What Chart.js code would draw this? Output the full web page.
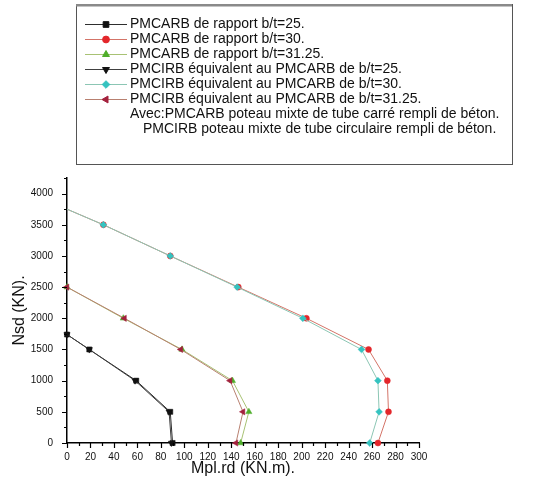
<!DOCTYPE html>
<html>
<head>
<meta charset="utf-8">
<script src="https://cdn.jsdelivr.net/npm/chart.js@4/dist/chart.umd.min.js"></script>
<style>
  html, body { margin: 0; padding: 0; background: #fff; }
  #wrap { position: relative; width: 554px; height: 489px; }
</style>
</head>
<body>
<div id="wrap"><canvas id="c" width="554" height="489"></canvas></div>
<script>
// Interaction curves N-M: axial load Nsd (KN) against plastic moment Mpl.rd (KN.m)
const nsd25 = [1740, 1500, 1000, 500, 0];
const mCarre25 = [0, 19, 59, 88, 90];
const mCirc25 = [0, 19, 58, 87, 89];

const nsd30 = [3750, 3500, 3000, 2500, 2000, 1500, 1000, 500, 0];
const mCarre30 = [0, 31, 88, 146, 204, 257, 273, 274, 265];
const mCirc30 = [0, 31, 88, 145, 201, 251, 265, 266, 258];

const nsd3125 = [2500, 2000, 1500, 1000, 500, 0];
const mCarre3125 = [0, 48, 98, 141, 155, 148];
const mCirc3125 = [0, 49, 97, 139, 150, 144];

const seriesLabels = [
  'PMCARB de rapport b/t=25.',
  'PMCARB de rapport b/t=30.',
  'PMCARB de rapport b/t=31.25.',
  'PMCIRB équivalent au PMCARB de b/t=25.',
  'PMCIRB équivalent au PMCARB de b/t=30.',
  'PMCIRB équivalent au PMCARB de b/t=31.25.'
];
const noteLines = [
  'Avec:PMCARB poteau mixte de tube carré rempli de béton.',
  'PMCIRB poteau mixte de tube circulaire rempli de béton.'
];

const xTickValues = [0, 20, 40, 60, 80, 100, 120, 140, 160, 180, 200, 220, 240, 260, 280, 300];
const yTickValues = [0, 500, 1000, 1500, 2000, 2500, 3000, 3500, 4000];
const xRange = { min: 0, max: 300, minor: 10 };
const yRange = { min: 0, max: 4250, minor: 250 };

function pts(ms, ns) { return ms.map((m, i) => ({ x: m, y: ns[i] })); }

const FONT = '"Liberation Sans", Arial, sans-serif';

// The b/t=30 curves start on the axis without a symbol
const styles = [
  { line: '#2e2e2e', fill: '#111111', pointStyle: 'rect', radius: 3.6, rotation: 0, bareStart: false },
  { line: '#d47468', fill: '#e3262b', pointStyle: 'circle', radius: 3, rotation: 0, bareStart: true },
  { line: '#a8c274', fill: '#4fae2a', pointStyle: 'triangle', radius: 3.6, rotation: 0, bareStart: false },
  { line: '#404040', fill: '#111111', pointStyle: 'triangle', radius: 3.6, rotation: 180, bareStart: false },
  { line: '#8cc6b4', fill: '#35c3c0', pointStyle: 'rectRot', radius: 3.4, rotation: 0, bareStart: true },
  { line: '#b88070', fill: '#a3203d', pointStyle: 'triangle', radius: 3.6, rotation: -90, bareStart: false }
];

const seriesData = [
  pts(mCarre25, nsd25),
  pts(mCarre30, nsd30),
  pts(mCarre3125, nsd3125),
  pts(mCirc25, nsd25),
  pts(mCirc30, nsd30),
  pts(mCirc3125, nsd3125)
];

// Later series are painted over earlier ones
const datasets = seriesData.map((d, i) => ({
  label: seriesLabels[i],
  data: d,
  order: seriesData.length - i,
  showLine: true,
  borderColor: styles[i].line,
  borderWidth: 1,
  backgroundColor: styles[i].fill,
  pointBackgroundColor: styles[i].fill,
  pointBorderColor: styles[i].fill,
  pointBorderWidth: 0.5,
  pointStyle: styles[i].pointStyle,
  pointRadius: ctx => (styles[i].bareStart && ctx.dataIndex === 0) ? 0 : styles[i].radius,
  legendRadius: styles[i].radius,
  pointRotation: styles[i].rotation,
  tension: 0,
  clip: false
}));

// Boxed legend above the plot, with the two explanatory lines
const boxLegend = {
  id: 'boxLegend',
  afterDraw(chart) {
    const ctx = chart.ctx;
    const box = { left: 76, top: 4, right: 512, bottom: 164 };
    ctx.save();
    ctx.strokeStyle = '#555';
    ctx.lineWidth = 1;
    ctx.strokeRect(box.left + 0.5, box.top + 0.5, box.right - box.left, box.bottom - box.top);
    ctx.fillStyle = '#8a8a8a';
    ctx.fillRect(box.left, box.top, box.right - box.left, 2.5);
    ctx.font = '14px ' + FONT;
    ctx.textBaseline = 'middle';
    ctx.fillStyle = '#111';
    const rowY = i => 24 + i * 15;
    chart.data.datasets.forEach((ds, i) => {
      const y = rowY(i);
      ctx.strokeStyle = ds.borderColor;
      ctx.lineWidth = 1;
      ctx.beginPath();
      ctx.moveTo(85, y + 0.5);
      ctx.lineTo(127, y + 0.5);
      ctx.stroke();
      ctx.fillStyle = ds.pointBackgroundColor;
      ctx.strokeStyle = ds.pointBorderColor;
      Chart.helpers.drawPoint(ctx, {
        pointStyle: ds.pointStyle, radius: ds.legendRadius + 0.4,
        rotation: ds.pointRotation, borderWidth: 0.5
      }, 106, y + 0.5);
      ctx.fillStyle = '#111';
      ctx.fillText(ds.label, 130, y);
    });
    ctx.fillText(noteLines[0], 130, rowY(6));
    ctx.fillText(noteLines[1], 143, rowY(7));
    ctx.restore();
  }
};

// Outward major and minor tick marks on both axes
const tickMarks = {
  id: 'tickMarks',
  afterDraw(chart) {
    const ctx = chart.ctx;
    const xs = chart.scales.x, ys = chart.scales.y;
    const area = chart.chartArea;
    ctx.save();
    ctx.strokeStyle = '#000';
    ctx.lineWidth = 1.2;
    ctx.beginPath();
    for (let v = xRange.min; v <= xRange.max; v += xRange.minor) {
      const px = Math.round(xs.getPixelForValue(v)) + 0.5;
      const len = xTickValues.includes(v) ? 5 : 3;
      ctx.moveTo(px, area.bottom);
      ctx.lineTo(px, area.bottom + len);
    }
    for (let v = yRange.min; v <= yRange.max; v += yRange.minor) {
      const py = Math.round(ys.getPixelForValue(v)) + 0.5;
      const len = yTickValues.includes(v) ? 5 : 3;
      ctx.moveTo(area.left, py);
      ctx.lineTo(area.left - len, py);
    }
    ctx.stroke();
    ctx.restore();
  }
};

new Chart(document.getElementById('c'), {
  type: 'scatter',
  data: { datasets },
  plugins: [boxLegend, tickMarks],
  options: {
    responsive: false,
    animation: false,
    events: [],
    layout: { padding: { left: 0, top: 178, right: 135, bottom: 0 } },
    plugins: { legend: { display: false }, tooltip: { enabled: false } },
    scales: {
      x: {
        type: 'linear',
        min: xRange.min, max: xRange.max,
        afterBuildTicks(s) { s.ticks = xTickValues.map(v => ({ value: v })); },
        afterFit(s) { s.height = 46; },
        grid: { display: false },
        border: { display: true, color: '#000', width: 1.5 },
        ticks: { padding: 0, color: '#111', font: { family: FONT, size: 10 }, maxRotation: 0, autoSkip: false, callback: v => String(v) },
        title: { display: true, text: 'Mpl.rd (KN.m).', color: '#111', font: { family: FONT, size: 16 }, padding: { top: 0, bottom: 11 } }
      },
      y: {
        type: 'linear',
        min: yRange.min, max: yRange.max,
        afterBuildTicks(s) { s.ticks = yTickValues.map(v => ({ value: v })); },
        afterFit(s) { s.width = 67; },
        grid: { display: false },
        border: { display: true, color: '#000', width: 1.5 },
        ticks: { padding: 6, color: '#111', font: { family: FONT, size: 10 }, autoSkip: false, callback: v => String(v) },
        title: { display: true, text: 'Nsd (KN).', color: '#111', font: { family: FONT, size: 16 }, padding: { top: 10, bottom: 0 } }
      }
    }
  }
});
</script>
</body>
</html>
